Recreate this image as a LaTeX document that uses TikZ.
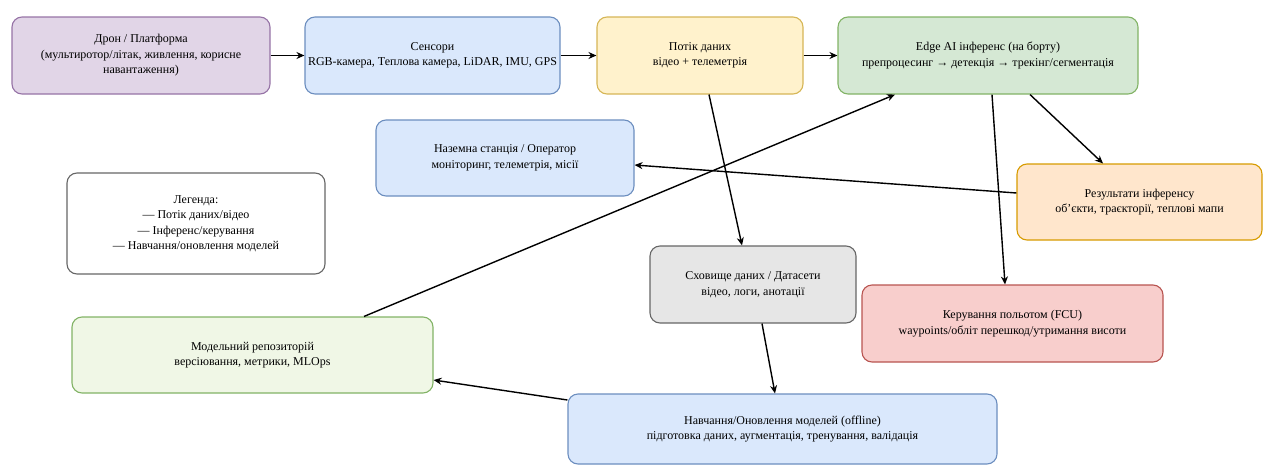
\documentclass[tikz,border=0pt]{standalone}
\usepackage{fontspec}
\setmainfont{Liberation Serif}
\usetikzlibrary{arrows.meta}
\definecolor{purF}{HTML}{E1D5E7}\definecolor{purS}{HTML}{9673A6}
\definecolor{bluF}{HTML}{DAE8FC}\definecolor{bluS}{HTML}{6C8EBF}
\definecolor{yelF}{HTML}{FFF2CC}\definecolor{yelS}{HTML}{D6B656}
\definecolor{grnF}{HTML}{D5E8D4}\definecolor{grnS}{HTML}{82B366}
\definecolor{orgF}{HTML}{FFE6CC}\definecolor{orgS}{HTML}{D79B00}
\definecolor{gryF}{HTML}{E6E6E6}\definecolor{gryS}{HTML}{666666}
\definecolor{redF}{HTML}{F8CECC}\definecolor{redS}{HTML}{B85450}
\definecolor{lgrF}{HTML}{F0F7E6}
\tikzset{
  box/.style={draw, line width=1.1pt, rounded corners=10pt, align=center, inner sep=2pt,
    font=\fontsize{12}{15.5}\selectfont},
  conn/.style={draw=black, line width=1.4pt, -{Stealth[length=8pt,width=7pt]}}
}
\begin{document}
\begin{tikzpicture}[x=1pt,y=-1pt]
\useasboundingbox (0,0) rectangle (1266,466);
\node[box, fill=purF, draw=purS, minimum width=258pt, minimum height=77pt] (drone) at (141,55.5)
  {Дрон / Платформа\\(мультиротор/літак, живлення, корисне\\навантаження)};
\node[box, fill=bluF, draw=bluS, minimum width=255pt, minimum height=77pt] (sens) at (432.5,55.5)
  {Сенсори\\RGB-камера, Теплова камера, LiDAR, IMU, GPS};
\node[box, fill=yelF, draw=yelS, minimum width=206pt, minimum height=77pt] (flow) at (700,55.5)
  {Потік даних\\відео + телеметрія};
\node[box, fill=grnF, draw=grnS, minimum width=300pt, minimum height=77pt] (edge) at (988,55.5)
  {Edge AI інференс (на борту)\\препроцесинг → детекція → трекінг/сегментація};
\node[box, fill=bluF, draw=bluS, minimum width=258pt, minimum height=76pt] (gs) at (505,158)
  {Наземна станція / Оператор\\моніторинг, телеметрія, місії};
\node[box, fill=white, draw=gryS, minimum width=258pt, minimum height=101pt] (leg) at (196,223.5)
  {Легенда:\\— Потік даних/відео\\— Інференс/керування\\— Навчання/оновлення моделей};
\node[box, fill=orgF, draw=orgS, minimum width=245pt, minimum height=76pt] (res) at (1139.5,202)
  {Результати інференсу\\об'єкти, траєкторії, теплові мапи};
\node[box, fill=gryF, draw=gryS, minimum width=206pt, minimum height=77pt] (store) at (753,284.5)
  {Сховище даних / Датасети\\відео, логи, анотації};
\node[box, fill=redF, draw=redS, minimum width=301pt, minimum height=77pt] (fcu) at (1012.5,323.5)
  {Керування польотом (FCU)\\waypoints/обліт перешкод/утримання висоти};
\node[box, fill=lgrF, draw=grnS, minimum width=361pt, minimum height=76pt] (repo) at (252.5,355)
  {Модельний репозиторій\\версіювання, метрики, MLOps};
\node[box, fill=bluF, draw=bluS, minimum width=429pt, minimum height=70pt] (train) at (782.5,429)
  {Навчання/Оновлення моделей (offline)\\підготовка даних, аугментація, тренування, валідація};

\draw[conn] (drone.east) -- (sens.west);
\draw[conn] (sens.east) -- (flow.west);
\draw[conn] (flow.east) -- (edge.west);
\draw[conn] ([xshift=9pt]flow.south) -- ([xshift=-11pt]store.north);
\draw[conn] ([xshift=42pt]edge.south) -- ([xshift=-36.5pt]res.north);
\draw[conn] ([xshift=4pt]edge.south) -- ([xshift=-7.5pt]fcu.north);
\draw[conn] ([yshift=9pt]res.west) -- ([yshift=-7pt]gs.east);
\draw[conn] ([xshift=9pt]store.south) -- ([xshift=-7.5pt]train.north);
\draw[conn] ([yshift=29pt]train.west) -- ([yshift=-25pt]repo.east);
\draw[conn] ([xshift=111.5pt]repo.north) -- ([xshift=-93pt]edge.south);
\end{tikzpicture}
\end{document}
